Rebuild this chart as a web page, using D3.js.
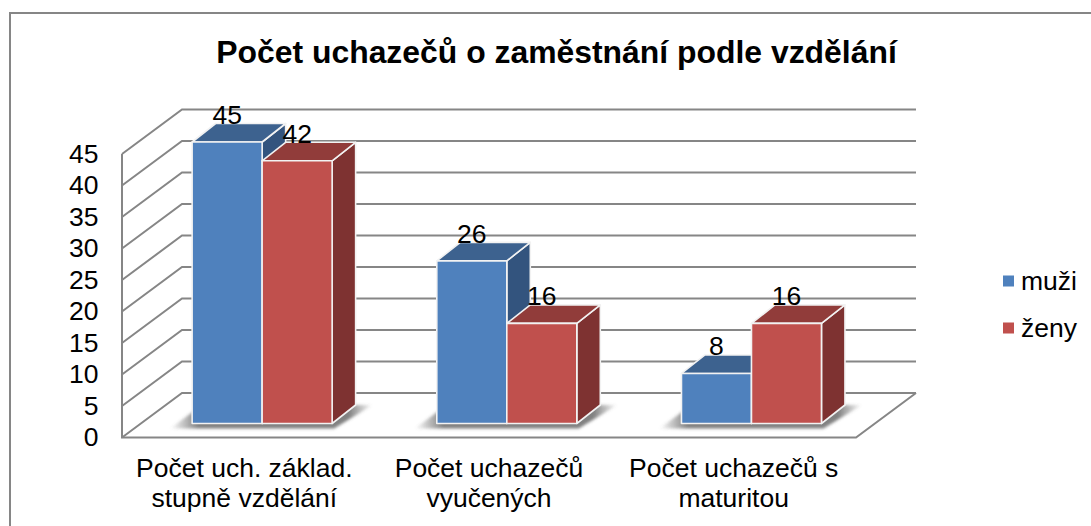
<!DOCTYPE html>
<html><head><meta charset="utf-8">
<script src="https://cdn.jsdelivr.net/npm/d3@7"></script>
<style>html,body{margin:0;padding:0;background:#fff;overflow:hidden}svg{display:block}text{font-family:"Liberation Sans",Arial,sans-serif;fill:#000}</style>
</head><body><svg id="c" width="1091" height="526"></svg>
<script>
const titleText = "Počet uchazečů o zaměstnání podle vzdělání";
const categories = ["Počet uch. základ. stupně vzdělání", "Počet uchazečů vyučených", "Počet uchazečů s maturitou"];
const categoryLines = [["Počet uch. základ.", "stupně vzdělání"], ["Počet uchazečů", "vyučených"], ["Počet uchazečů s", "maturitou"]];
const seriesNames = ["muži", "ženy"];
const muzi = [45, 26, 8];
const zeny = [42, 16, 16];
const yTicks = [0, 5, 10, 15, 20, 25, 30, 35, 40, 45];
const seriesValues = [muzi, zeny];
const front = ["#4f81bd", "#c0504d"], topFace = ["#3d628f", "#913c3a"], sideFace = ["#33547e", "#7e3231"];

const svg = d3.select("#c");
const defs = svg.append("defs");
defs.append("filter").attr("id", "blur").attr("x", "-20%").attr("y", "-50%").attr("width", "140%").attr("height", "200%")
  .append("feGaussianBlur").attr("stdDeviation", 1.4);
const grad = defs.append("linearGradient").attr("id", "shade").attr("x1", 0).attr("x2", 1).attr("y1", 0).attr("y2", 0);
[[0, 0], [0.14, 0.75], [0.88, 0.75], [1, 0]].forEach(([o, a]) =>
  grad.append("stop").attr("offset", o).attr("stop-color", "#555").attr("stop-opacity", a));

// frame
svg.append("rect").attr("x", 10).attr("y", 13).attr("width", 1100).attr("height", 540)
  .attr("fill", "#fff").attr("stroke", "#868686").attr("stroke-width", 2);

svg.append("text").attr("x", 556.5).attr("y", 63).attr("text-anchor", "middle")
  .attr("font-size", 31.9).attr("font-weight", "bold").text(titleText);

// 3D frame geometry
const wallX = 122, wallR = 856, depthX = 60, depthY = -44.5;
const yFront = d3.scaleLinear().domain([0, 45]).range([437.5, 154]);
const line = pts => d3.line()(pts);
const wallStroke = "#868686";
const walls = svg.append("g").attr("fill", "none").attr("stroke", wallStroke).attr("stroke-width", 2);

// side wall diagonals + back wall gridlines
walls.selectAll("path.grid").data(yTicks).join("path").attr("class", "grid")
  .attr("d", t => line([[wallX, yFront(t)], [wallX + depthX, yFront(t) + depthY], [wallR + depthX, yFront(t) + depthY]]));
// axis vertical and floor outline
walls.append("path").attr("d", line([[wallX, yFront(45)], [wallX, yFront(0)], [wallR, yFront(0)], [wallR + depthX, yFront(0) + depthY]]));

// y axis labels through d3 axis
const axisY = d3.axisLeft(yFront).tickValues(yTicks).tickSize(0).tickPadding(23.5);
const gy = svg.append("g").attr("transform", `translate(${wallX},0)`).call(axisY);
gy.select(".domain").remove();
gy.selectAll("text").attr("font-size", 26.5).attr("font-family", '"Liberation Sans",Arial,sans-serif');

// bars
const xFront = d3.scaleBand().domain(categories).range([wallX, wallR]);
const x0 = d3.scaleBand().domain(categories).range([139.8, 873.8]);
const x1 = d3.scaleBand().domain(seriesNames).range([-70, 70]);
const h = d3.scaleLinear().domain([0, 45]).range([423.5, 142]);
const dx = 23.5, dy = -18.5;

// floor shadows
const shadow = svg.append("g").attr("filter", "url(#blur)").attr("fill", "url(#shade)");
categories.forEach(c => {
  const l = x0(c) + x0.bandwidth() / 2 - 70, r = l + 140;
  shadow.append("path").attr("d", line([[l - 22, h(0) + 5], [r + 2, h(0) + 5], [r + dx + 17, h(0) + dy], [l + 10, h(0) + dy]]) + "Z");
});

const bars = svg.append("g").attr("stroke", "#f2f2f2").attr("stroke-width", 1.6).attr("stroke-linejoin", "round");
categories.forEach((c, ci) => {
  const cx = x0(c) + x0.bandwidth() / 2;
  seriesNames.forEach((s, si) => {
    const v = seriesValues[si][ci];
    const l = cx + x1(s), r = l + x1.bandwidth(), t = h(v), b = h(0);
    const g = bars.append("g");
    g.append("path").attr("fill", sideFace[si])
      .attr("d", line([[r, t], [r + dx, t + dy], [r + dx, b + dy], [r, b]]) + "Z");
    g.append("path").attr("fill", topFace[si])
      .attr("d", line([[l, t], [l + dx, t + dy], [r + dx, t + dy], [r, t]]) + "Z");
    g.append("rect").attr("x", l).attr("y", t).attr("width", r - l).attr("height", b - t).attr("fill", front[si]);
  });
});

// data labels
const labels = svg.append("g").attr("font-size", 26.5).attr("text-anchor", "middle");
categories.forEach((c, ci) => {
  const cx = x0(c) + x0.bandwidth() / 2;
  seriesNames.forEach((s, si) => {
    const v = seriesValues[si][ci];
    labels.append("text").attr("x", cx + x1(s) + x1.bandwidth() / 2)
      .attr("y", h(v) + dy + 0.5).text(v);
  });
});

// category labels
const catG = svg.append("g").attr("font-size", 26.5).attr("text-anchor", "middle");
categories.forEach((c, ci) => {
  const cx = xFront(c) + xFront.bandwidth() / 2;
  categoryLines[ci].forEach((t, li) => {
    catG.append("text").attr("x", cx).attr("y", 477 + li * 30).text(t);
  });
});

// legend
const lg = svg.append("g");
seriesNames.forEach((s, i) => {
  const y = 281 + i * 47;
  lg.append("rect").attr("x", 1003).attr("y", y - 5.5).attr("width", 11).attr("height", 11).attr("fill", front[i]);
  lg.append("text").attr("x", 1021).attr("y", y + 9).attr("font-size", 26.5).text(s);
});
</script></body></html>
